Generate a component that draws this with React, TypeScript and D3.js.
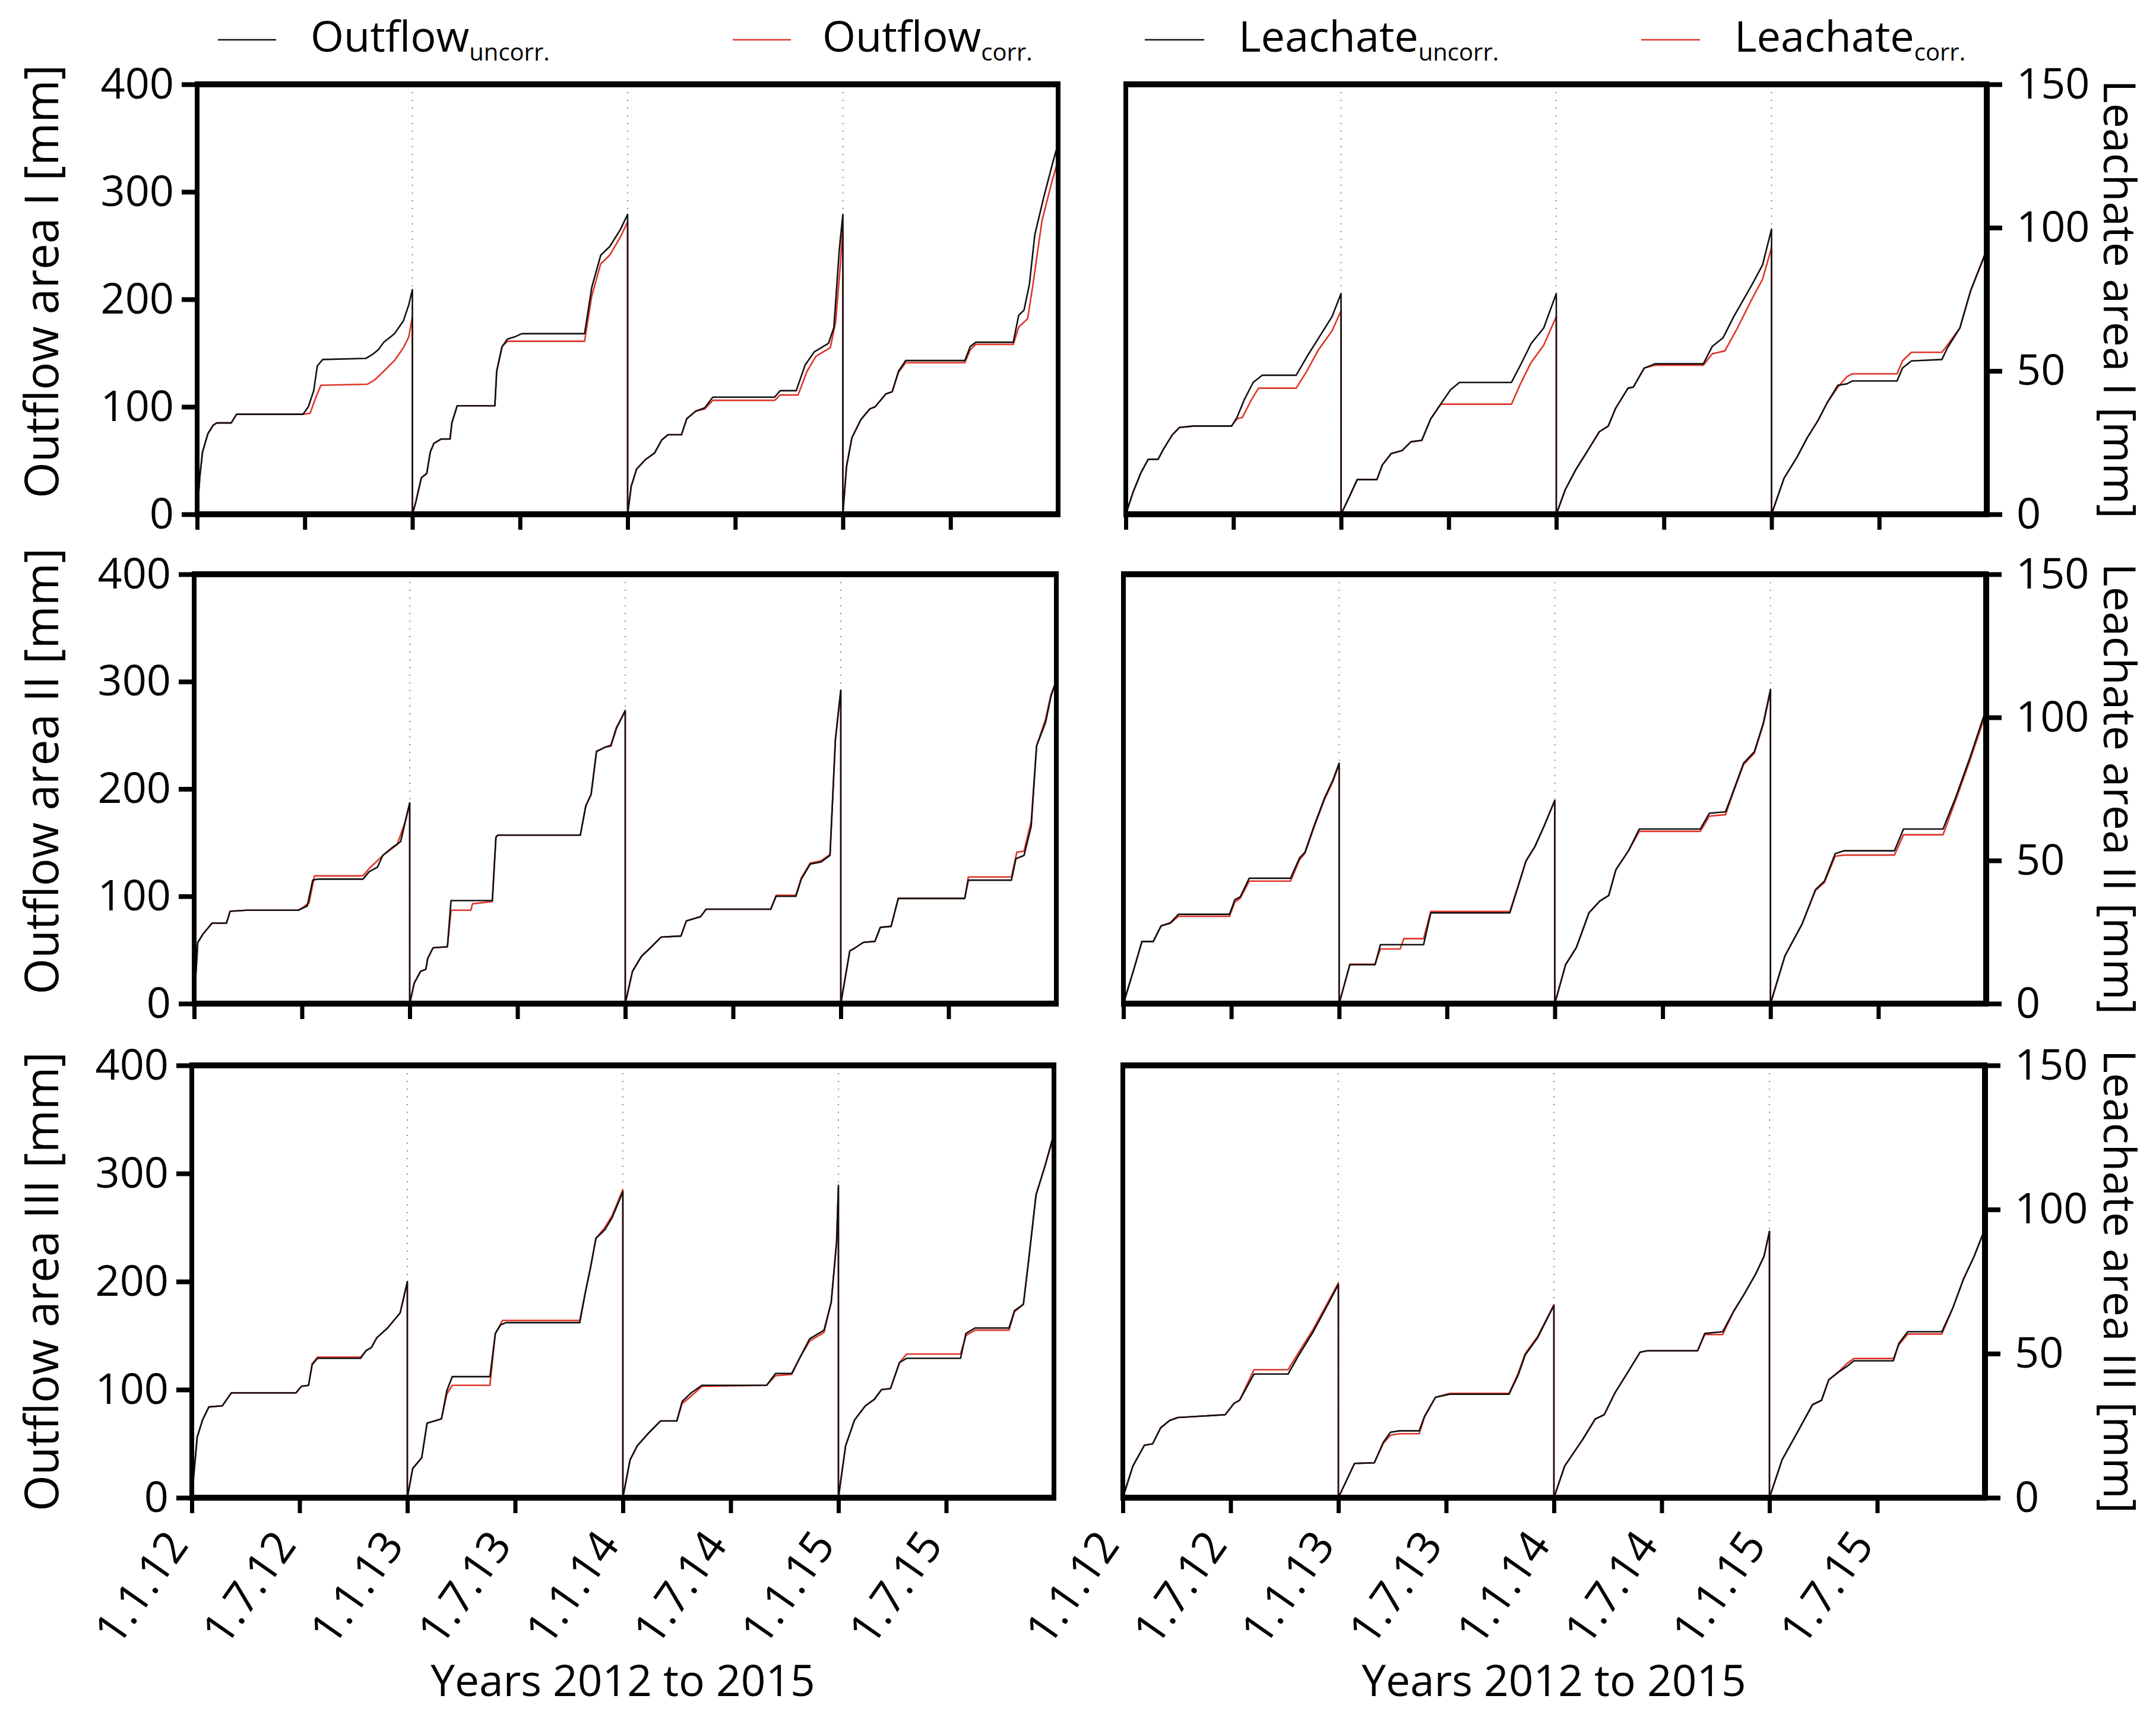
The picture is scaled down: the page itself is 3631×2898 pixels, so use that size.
import React, { useRef, useEffect } from "react";
import * as d3 from "d3";

type Pt = [number, number];

// x values are months counted from 1.1.12, y values are cumulative mm
const xTickMonths = [0, 6, 12, 18, 24, 30, 36, 42];
const xTickLabels = ["1.1.12", "1.7.12", "1.1.13", "1.7.13", "1.1.14", "1.7.14", "1.1.15", "1.7.15"];
const yearBreaks = [12, 24, 36];
const outflowTicks = [0, 100, 200, 300, 400];
const leachateTicks = [0, 50, 100, 150];

const outflowIUncorr: Pt[] = [
    [0, 0], [0.15, 35], [0.3, 58], [0.6, 75], [0.9, 83], [1.1, 85], [1.9, 85], [2.2, 93], [5.9, 93], [6.2, 100], [6.5, 115], [6.7, 138], [7.0, 144], [9.4, 145], [9.8, 149], [10.1, 153], [10.4, 160], [11.0, 168], [11.5, 180], [11.8, 195], [12, 209],
    [12, 0], [12.2, 12], [12.5, 34], [12.8, 38], [13.0, 58], [13.2, 66], [13.6, 70], [14.1, 70], [14.2, 85], [14.5, 101], [16.6, 101], [16.7, 133], [17.0, 156], [17.3, 163], [17.7, 165], [18.1, 168], [21.6, 168], [22.0, 211], [22.5, 241], [23.0, 249], [23.6, 265], [24, 279],
    [24, 0], [24.2, 26], [24.5, 42], [25.0, 51], [25.5, 57], [25.9, 69], [26.25, 74], [27.0, 74], [27.3, 89], [27.8, 96], [28.3, 99], [28.75, 109], [32.2, 109], [32.5, 115], [33.4, 115], [33.9, 139], [34.4, 151], [35.2, 159], [35.5, 174], [35.8, 246], [36, 279],
    [36, 0], [36.2, 44], [36.5, 71], [37.0, 88], [37.5, 98], [37.8, 100], [38.4, 112], [38.75, 114], [39.1, 133], [39.5, 143], [42.8, 143], [43.1, 156], [43.4, 160], [45.5, 160], [45.8, 185], [46.1, 190], [46.4, 214], [46.7, 260], [47.2, 295], [47.7, 327], [48, 345],
];
const outflowICorr: Pt[] = [
    [0, 0], [0.15, 35], [0.3, 58], [0.6, 75], [0.9, 83], [1.1, 85], [1.9, 85], [2.2, 93], [5.9, 93], [6.3, 94], [6.6, 108], [6.9, 120], [9.5, 121], [9.9, 125], [10.4, 133], [11.0, 143], [11.5, 155], [11.8, 165], [12, 184],
    [12, 0], [12.2, 12], [12.5, 34], [12.8, 38], [13.0, 58], [13.2, 66], [13.6, 70], [14.1, 70], [14.2, 85], [14.5, 101], [16.6, 101], [16.7, 133], [17.0, 156], [17.3, 161], [21.6, 161], [22.0, 203], [22.5, 233], [23.0, 241], [23.6, 258], [24, 272],
    [24, 0], [24.2, 26], [24.5, 42], [25.0, 51], [25.5, 57], [25.9, 69], [26.25, 74], [27.0, 74], [27.3, 89], [27.8, 96], [28.3, 98], [28.75, 106], [32.2, 106], [32.5, 111], [33.5, 111], [34.0, 133], [34.5, 147], [35.3, 155], [35.6, 179], [35.85, 230], [36, 268],
    [36, 0], [36.2, 44], [36.5, 71], [37.0, 88], [37.5, 98], [37.8, 100], [38.4, 112], [38.75, 114], [39.1, 132], [39.5, 141], [42.8, 141], [43.1, 153], [43.4, 158], [45.5, 158], [45.8, 174], [46.3, 182], [46.6, 214], [47.1, 273], [47.6, 306], [48, 330],
];

const leachateIUncorr: Pt[] = [
    [0, 0], [0.4, 7.6], [0.85, 14.6], [1.25, 19.2], [1.8, 19.2], [2.1, 22.7], [2.6, 27.8], [3.0, 30.3], [3.8, 30.8], [5.9, 30.8], [6.2, 33.8], [6.6, 39.9], [7.1, 46], [7.6, 48.5], [9.5, 48.5], [10.1, 55], [10.7, 61], [11.5, 69], [12, 77],
    [12, 0], [12.5, 6.6], [12.9, 12.1], [14.0, 12.1], [14.3, 17.2], [14.8, 21.2], [15.4, 22.2], [15.9, 25.3], [16.5, 25.8], [17.0, 33.3], [17.5, 37.9], [18.1, 43.4], [18.6, 46], [21.5, 46], [22.0, 52], [22.6, 59.6], [23.3, 65], [24, 77],
    [24, 0], [24.5, 8.6], [25.1, 15.7], [25.8, 22.7], [26.4, 28.8], [26.9, 30.8], [27.3, 36.9], [28.0, 44], [28.3, 44.4], [28.9, 51], [29.5, 52.5], [32.2, 52.5], [32.7, 58.6], [33.3, 61.6], [33.9, 69], [34.9, 80], [35.5, 87], [36, 99.5],
    [36, 0], [36.7, 12.6], [37.4, 19.7], [38.0, 26.8], [38.6, 32.8], [39.1, 38.9], [39.7, 45], [40.2, 45.5], [40.5, 46.5], [43.0, 46.5], [43.3, 51], [43.8, 53.5], [45.5, 54], [45.8, 58], [46.5, 65], [47.1, 78], [48, 92.4],
];
const leachateICorr: Pt[] = [
    [0, 0], [0.4, 7.6], [0.85, 14.6], [1.25, 19.2], [1.8, 19.2], [2.1, 22.7], [2.6, 27.8], [3.0, 30.3], [3.8, 30.8], [5.9, 30.8], [6.2, 33.3], [6.5, 33.8], [7.0, 39.9], [7.4, 44], [9.5, 44], [10.1, 50], [10.7, 57], [11.5, 64], [12, 71],
    [12, 0], [12.5, 6.6], [12.9, 12.1], [14.0, 12.1], [14.3, 17.2], [14.8, 21.2], [15.4, 22.2], [15.9, 25.3], [16.5, 25.8], [17.0, 33.3], [17.5, 37.9], [17.6, 38.4], [21.5, 38.4], [22.0, 45.5], [22.6, 53], [23.3, 59], [24, 69],
    [24, 0], [24.5, 8.6], [25.1, 15.7], [25.8, 22.7], [26.4, 28.8], [26.9, 30.8], [27.3, 36.9], [28.0, 44], [28.3, 44.4], [28.9, 51], [29.5, 52], [32.2, 52], [32.7, 56], [33.4, 57], [34.1, 65], [34.9, 75], [35.5, 82], [36, 93],
    [36, 0], [36.7, 12.6], [37.4, 19.7], [38.0, 26.8], [38.6, 32.8], [39.1, 38.9], [39.7, 44.4], [40.2, 48], [40.5, 49], [43.0, 49], [43.3, 53.5], [43.8, 56.5], [45.5, 56.5], [45.8, 59], [46.5, 65], [47.1, 78], [48, 92],
];

const outflowIIUncorr: Pt[] = [
    [0, 0], [0.2, 57], [0.5, 65], [1.0, 75], [1.8, 75], [2.0, 86], [2.9, 87], [5.8, 87], [6.3, 91], [6.6, 115], [6.9, 116], [9.4, 116], [9.75, 123], [10.2, 127], [10.5, 138], [11.0, 145], [11.5, 151], [11.8, 173], [12, 187],
    [12, 0], [12.25, 19], [12.6, 30], [12.9, 32], [13.0, 42], [13.3, 52], [14.1, 53], [14.3, 96], [16.6, 96], [16.8, 155], [16.9, 157], [21.5, 157], [21.8, 184], [22.1, 195], [22.4, 235], [22.9, 239], [23.2, 240], [23.5, 256], [24, 273],
    [24, 0], [24.4, 30], [24.9, 44], [25.4, 52], [26.0, 62], [27.1, 63], [27.4, 77], [28.2, 81], [28.5, 88], [32.1, 88], [32.4, 100], [33.5, 100], [33.8, 116], [34.3, 130], [34.9, 132], [35.4, 138], [35.7, 246], [36, 292],
    [36, 0], [36.5, 49], [36.8, 52], [37.25, 57], [37.9, 58], [38.2, 71], [38.8, 72], [39.2, 98], [42.9, 98], [43.1, 115], [45.5, 115], [45.75, 135], [46.2, 138], [46.6, 165], [46.9, 240], [47.4, 262], [47.7, 286], [48, 302],
];
const outflowIICorr: Pt[] = [
    [0, 0], [0.2, 57], [0.5, 65], [1.0, 75], [1.8, 75], [2.0, 86], [2.9, 87], [5.8, 87], [6.0, 89], [6.4, 94], [6.7, 119], [9.4, 119], [9.75, 126], [10.5, 138], [11.3, 148], [11.8, 172], [12, 187],
    [12, 0], [12.25, 19], [12.6, 30], [12.9, 32], [13.0, 42], [13.3, 52], [14.1, 53], [14.3, 87], [15.4, 87], [15.5, 93], [16.6, 95], [16.8, 155], [16.9, 157], [21.5, 157], [21.8, 184], [22.1, 195], [22.4, 235], [22.9, 239], [23.2, 241], [23.5, 257], [24, 273],
    [24, 0], [24.4, 30], [24.9, 44], [25.4, 52], [26.0, 62], [27.1, 63], [27.4, 77], [28.2, 81], [28.5, 88], [32.1, 88], [32.4, 101], [33.5, 101], [33.8, 117], [34.3, 131], [34.9, 133], [35.4, 139], [35.7, 246], [36, 292],
    [36, 0], [36.5, 49], [36.8, 52], [37.25, 57], [37.9, 58], [38.2, 71], [38.8, 72], [39.2, 98], [42.9, 98], [43.1, 118], [45.5, 118], [45.8, 141], [46.2, 142], [46.6, 170], [46.9, 240], [47.4, 265], [47.7, 288], [48, 300],
];

const leachateIIUncorr: Pt[] = [
    [0, 0], [0.56, 11.6], [1.03, 21.7], [1.66, 21.7], [2.1, 27.2], [2.6, 28.2], [3.06, 31.2], [5.9, 31.2], [6.2, 36.3], [6.5, 37.3], [7.0, 43.8], [9.3, 43.8], [9.8, 50.9], [10.1, 52.9], [10.6, 62], [11.2, 72], [11.65, 78], [12, 84],
    [12, 0], [12.6, 13.6], [14.0, 13.6], [14.3, 20.6], [16.7, 20.6], [17.1, 31.7], [21.5, 31.7], [22.0, 41.8], [22.4, 49.8], [22.9, 54.9], [23.4, 62], [24, 71],
    [24, 0], [24.6, 13.6], [25.2, 19.6], [25.9, 31.7], [26.5, 35.8], [27.0, 37.8], [27.4, 46.8], [28.1, 53.4], [28.7, 61], [32.1, 61], [32.6, 66.5], [33.5, 67], [33.8, 72], [34.5, 84], [35.1, 88], [35.6, 98], [36, 109.8],
    [36, 0], [36.8, 16.6], [37.75, 27.7], [38.5, 39.8], [39.0, 42.8], [39.6, 52.4], [40.1, 53.4], [42.9, 53.4], [43.4, 61], [45.6, 61], [46.3, 72], [47.1, 86], [48, 103],
];
const leachateIICorr: Pt[] = [
    [0, 0], [0.56, 11.6], [1.03, 21.7], [1.66, 21.7], [2.1, 27.2], [2.6, 28], [3.06, 30.5], [5.9, 30.5], [6.2, 35.5], [6.5, 36.8], [7.0, 42.8], [9.3, 42.8], [9.8, 50.3], [10.1, 52.5], [10.6, 61.5], [11.2, 71.5], [11.65, 77.5], [12, 83.5],
    [12, 0], [12.6, 13.8], [14.0, 13.8], [14.3, 19.1], [15.4, 19.1], [15.6, 22.7], [16.7, 22.7], [17.1, 32.2], [21.5, 32.2], [22.0, 42], [22.4, 50], [22.9, 55], [23.4, 62], [24, 71],
    [24, 0], [24.6, 13.6], [25.2, 19.6], [25.9, 31.7], [26.5, 35.8], [27.0, 37.8], [27.4, 46.8], [28.1, 53.4], [28.7, 60.2], [32.1, 60.2], [32.6, 65.5], [33.5, 66], [33.8, 71.5], [34.5, 83.5], [35.1, 87.5], [35.6, 97.5], [36, 109],
    [36, 0], [36.8, 16.6], [37.75, 27.7], [38.5, 39.5], [39.0, 42.3], [39.6, 51.5], [40.1, 51.9], [42.9, 51.9], [43.4, 59], [45.6, 59], [46.3, 71], [47.1, 85], [48, 101.7],
];

const outflowIIIUncorr: Pt[] = [
    [0, 0], [0.3, 56], [0.6, 72], [0.95, 84], [1.7, 85], [2.2, 97], [5.8, 97], [6.1, 103], [6.5, 104], [6.7, 123], [7.0, 129], [9.4, 129], [9.7, 136], [10.0, 139], [10.3, 148], [10.9, 157], [11.6, 171], [12, 200],
    [12, 0], [12.3, 27], [12.8, 37], [13.1, 69], [13.9, 73], [14.2, 99], [14.5, 112], [16.6, 112], [16.9, 152], [17.2, 160], [17.5, 162], [21.6, 162], [21.9, 189], [22.2, 213], [22.5, 240], [23.0, 248], [23.4, 259], [24, 283],
    [24, 0], [24.4, 35], [24.8, 48], [25.5, 61], [26.1, 71], [27.0, 71], [27.3, 89], [27.8, 97], [28.4, 104], [32.0, 104], [32.5, 115], [33.4, 115], [33.9, 131], [34.4, 147], [35.2, 155], [35.6, 181], [35.9, 237], [36, 289],
    [36, 0], [36.4, 48], [36.9, 72], [37.5, 85], [38.0, 91], [38.4, 100], [38.9, 101], [39.4, 125], [39.8, 129], [42.8, 129], [43.1, 152], [43.6, 157], [45.5, 157], [45.8, 173], [46.3, 179], [46.6, 221], [47.0, 280], [47.5, 307], [48, 337],
];
const outflowIIICorr: Pt[] = [
    [0, 0], [0.3, 56], [0.6, 72], [0.95, 84], [1.7, 85], [2.2, 97], [5.8, 97], [6.1, 103], [6.5, 104], [6.7, 124], [7.0, 130], [9.4, 130], [9.7, 136], [10.0, 139], [10.3, 148], [10.9, 157], [11.6, 171], [12, 199],
    [12, 0], [12.3, 27], [12.8, 37], [13.1, 69], [13.9, 73], [14.2, 96], [14.5, 104], [16.6, 104], [16.9, 152], [17.3, 164], [21.6, 164], [21.9, 189], [22.2, 213], [22.5, 240], [23.0, 250], [23.4, 261], [24, 285],
    [24, 0], [24.4, 35], [24.8, 48], [25.5, 61], [26.1, 71], [27.0, 71], [27.3, 87], [27.8, 94], [28.4, 103], [32.0, 104], [32.5, 113], [33.4, 114], [33.9, 131], [34.4, 145], [35.2, 153], [35.6, 181], [35.9, 237], [36, 287],
    [36, 0], [36.4, 48], [36.9, 72], [37.5, 85], [38.0, 91], [38.4, 100], [38.9, 101], [39.4, 125], [39.8, 133], [42.8, 133], [43.1, 150], [43.6, 155], [45.5, 155], [45.8, 172], [46.3, 179], [46.6, 221], [47.0, 280], [47.5, 307], [48, 335],
];

const leachateIIIUncorr: Pt[] = [
    [0, 0], [0.56, 11], [1.2, 18.2], [1.66, 18.7], [2.1, 24.2], [2.6, 26.8], [3.06, 27.8], [5.7, 28.8], [6.2, 32.8], [6.5, 33.8], [7.3, 42.9], [9.2, 42.9], [9.8, 49.5], [10.6, 57.6], [11.3, 65.7], [12, 74],
    [12, 0], [12.9, 11.9], [14.0, 12.1], [14.5, 19.2], [14.9, 22.7], [15.4, 23.2], [16.5, 23.2], [16.8, 28.3], [17.4, 34.8], [18.2, 35.9], [21.5, 35.9], [22.0, 42.4], [22.4, 49.5], [23.1, 55.6], [24, 66.7],
    [24, 0], [24.6, 11], [25.6, 20.2], [26.3, 27.3], [26.8, 28.8], [27.4, 36.4], [28.1, 43.4], [28.8, 50.5], [29.2, 51], [32.0, 51], [32.4, 57], [33.4, 57.6], [34.0, 64.6], [34.6, 70.7], [35.25, 77.8], [35.7, 83.8], [36, 92.4],
    [36, 0], [36.7, 13.1], [37.6, 23.2], [38.4, 32.3], [38.9, 33.8], [39.3, 40.9], [39.8, 43.4], [40.3, 45.5], [40.7, 47.5], [42.9, 47.5], [43.2, 53.5], [43.7, 57.6], [45.6, 57.6], [46.2, 65.7], [46.8, 75.8], [47.4, 83.8], [48, 93.4],
];
const leachateIIICorr: Pt[] = [
    [0, 0], [0.56, 11], [1.2, 18.2], [1.66, 18.7], [2.1, 24.2], [2.6, 26.8], [3.06, 27.8], [5.7, 28.8], [6.2, 32.8], [6.5, 33.8], [7.3, 44.4], [9.2, 44.4], [9.8, 50.5], [10.6, 58.5], [11.3, 66.5], [12, 74.5],
    [12, 0], [12.9, 11.9], [14.0, 12.1], [14.5, 18.8], [14.9, 21.7], [15.4, 22.2], [16.5, 22.2], [16.8, 28], [17.4, 34.8], [18.2, 36.2], [21.5, 36.2], [22.0, 43], [22.4, 50], [23.1, 56], [24, 67],
    [24, 0], [24.6, 11], [25.6, 20.2], [26.3, 27.3], [26.8, 28.8], [27.4, 36.4], [28.1, 43.4], [28.8, 50.5], [29.2, 51], [32.0, 51], [32.4, 56.6], [33.4, 56.6], [34.0, 64.6], [34.6, 70.7], [35.25, 77.8], [35.7, 83.8], [36, 92.4],
    [36, 0], [36.7, 13.1], [37.6, 23.2], [38.4, 32.3], [38.9, 33.8], [39.3, 40.9], [39.8, 43.4], [40.3, 46.5], [40.7, 48.3], [42.9, 48.3], [43.2, 53], [43.7, 56.8], [45.6, 56.8], [46.2, 65.7], [46.8, 75.8], [47.4, 83.8], [48, 93.4],
];

const legendLabels = ["Outflow", "Outflow", "Leachate", "Leachate"];
const legendSubs = ["uncorr.", "corr.", "uncorr.", "corr."];

// layout (pixels)
const WIDTH = 3631;
const HEIGHT = 2898;
const FONT = "'Open Sans', 'Noto Sans', sans-serif";
const BLACK = "#111";
const RED = "#de3429";
const ROWS = [
    { top: 142, bottom: 866, left: [332, 1782], right: [1896, 3346], titleShift: -30 },
    { top: 967, bottom: 1690, left: [327, 1779], right: [1892, 3345], titleShift: -30 },
    { top: 1794, bottom: 2522, left: [323, 1775], right: [1891, 3343], titleShift: 0 },
];
const LEGEND_X = [[367, 465, 523], [1234, 1332, 1385], [1928, 2028, 2086], [2764, 2863, 2921]];
const LEGEND_COLORS = [BLACK, RED, BLACK, RED];

const panels = [
    { row: 0, side: "left", title: "Outflow area I [mm]", max: 400, ticks: outflowTicks, uncorr: outflowIUncorr, corr: outflowICorr },
    { row: 0, side: "right", title: "Leachate area I [mm]", max: 150, ticks: leachateTicks, uncorr: leachateIUncorr, corr: leachateICorr },
    { row: 1, side: "left", title: "Outflow area II [mm]", max: 400, ticks: outflowTicks, uncorr: outflowIIUncorr, corr: outflowIICorr },
    { row: 1, side: "right", title: "Leachate area II [mm]", max: 150, ticks: leachateTicks, uncorr: leachateIIUncorr, corr: leachateIICorr },
    { row: 2, side: "left", title: "Outflow area III [mm]", max: 400, ticks: outflowTicks, uncorr: outflowIIIUncorr, corr: outflowIIICorr },
    { row: 2, side: "right", title: "Leachate area III [mm]", max: 150, ticks: leachateTicks, uncorr: leachateIIIUncorr, corr: leachateIIICorr },
];

export default function App() {
    const svgRef = useRef<SVGSVGElement>(null);

    useEffect(() => {
        if (!svgRef.current) return;
        const svg = d3.select(svgRef.current);
        svg.selectAll("*").remove();

        svg.append("rect").attr("width", WIDTH).attr("height", HEIGHT).attr("fill", "#fff");

        // Legend
        const legend = svg.append("g").attr("font-family", FONT);
        LEGEND_X.forEach(([lx0, lx1, tx], i) => {
            legend.append("line")
                .attr("x1", lx0).attr("x2", lx1).attr("y1", 67).attr("y2", 67)
                .attr("stroke", LEGEND_COLORS[i]).attr("stroke-width", 2.5);
            const t = legend.append("text").attr("x", tx).attr("y", 87).attr("font-size", 72).attr("fill", "#000");
            t.append("tspan").text(legendLabels[i]);
            t.append("tspan").attr("font-size", 40).attr("dy", 15).text(legendSubs[i]);
        });

        panels.forEach(p => {
            const row = ROWS[p.row];
            const [x0, x1] = p.side === "left" ? row.left : row.right;
            const x = d3.scaleLinear().domain([0, 48]).range([x0, x1]);
            const y = d3.scaleLinear().domain([0, p.max]).range([row.bottom, row.top]);
            const g = svg.append("g");

            // dotted year separators
            g.selectAll(".sep")
                .data(yearBreaks)
                .join("line")
                .attr("x1", d => x(d)).attr("x2", d => x(d))
                .attr("y1", row.top).attr("y2", row.bottom)
                .attr("stroke", "#8a8a8a")
                .attr("stroke-width", 2)
                .attr("stroke-dasharray", "2,11");

            const line = d3.line<Pt>().x(d => x(d[0])).y(d => y(d[1]));

            g.append("path").datum(p.corr)
                .attr("fill", "none").attr("stroke", RED).attr("stroke-width", 2.6)
                .attr("stroke-linejoin", "round").attr("d", line);
            g.append("path").datum(p.uncorr)
                .attr("fill", "none").attr("stroke", BLACK).attr("stroke-width", 2.6)
                .attr("stroke-linejoin", "round").attr("d", line);

            // frame
            g.append("line").attr("x1", x0 - 4).attr("x2", x1 + 4).attr("y1", row.top).attr("y2", row.top)
                .attr("stroke", "#000").attr("stroke-width", 10);
            g.append("line").attr("x1", x0 - 4).attr("x2", x1 + 4).attr("y1", row.bottom).attr("y2", row.bottom)
                .attr("stroke", "#000").attr("stroke-width", 10);
            g.append("line").attr("x1", x0).attr("x2", x0).attr("y1", row.top).attr("y2", row.bottom)
                .attr("stroke", "#000").attr("stroke-width", 8);
            g.append("line").attr("x1", x1).attr("x2", x1).attr("y1", row.top).attr("y2", row.bottom)
                .attr("stroke", "#000").attr("stroke-width", p.side === "right" ? 10 : 8);

            // y axis
            const yAxis = (p.side === "left" ? d3.axisLeft(y) : d3.axisRight(y))
                .tickValues(p.ticks)
                .tickSize(26)
                .tickPadding(p.side === "left" ? 13 : 24)
                .tickFormat(d3.format("d"));
            const ga = g.append("g")
                .attr("transform", `translate(${p.side === "left" ? x0 : x1},0)`)
                .call(yAxis);
            ga.select(".domain").remove();
            ga.attr("font-size", 72).attr("font-family", FONT);
            ga.selectAll(".tick line").attr("stroke-width", 8);
            ga.selectAll(".tick text").attr("fill", "#000");

            // x axis
            const xAxis = d3.axisBottom(x)
                .tickValues(xTickMonths)
                .tickSize(26)
                .tickFormat((d, i) => (p.row === 2 ? xTickLabels[i] : ""));
            const gx = g.append("g")
                .attr("transform", `translate(0,${row.bottom})`)
                .call(xAxis);
            gx.select(".domain").remove();
            gx.attr("font-size", 75).attr("font-family", FONT);
            gx.selectAll(".tick line").attr("stroke-width", 7);
            gx.selectAll(".tick text")
                .attr("x", null).attr("y", null).attr("dy", null)
                .attr("fill", "#000")
                .attr("text-anchor", "end")
                .attr("transform", "translate(-4,80) rotate(-55)");

            // axis titles
            const cy = (row.top + row.bottom) / 2;
            if (p.side === "left") {
                g.append("text")
                    .attr("transform", `translate(98,${cy + row.titleShift}) rotate(-90)`)
                    .attr("text-anchor", "middle")
                    .attr("font-family", FONT).attr("font-size", 78)
                    .text(p.title);
            } else {
                g.append("text")
                    .attr("transform", `translate(3543,${cy}) rotate(90)`)
                    .attr("text-anchor", "middle")
                    .attr("font-family", FONT).attr("font-size", 75)
                    .text(p.title);
            }
            if (p.row === 2) {
                g.append("text")
                    .attr("x", (x0 + x1) / 2).attr("y", 2856)
                    .attr("text-anchor", "middle")
                    .attr("font-family", FONT).attr("font-size", 73)
                    .text("Years 2012 to 2015");
            }
        });
    }, []);

    return (
        <svg
            ref={svgRef}
            width={WIDTH}
            height={HEIGHT}
            style={{ position: "absolute", left: 0, top: 0, display: "block" }}
        />
    );
}
